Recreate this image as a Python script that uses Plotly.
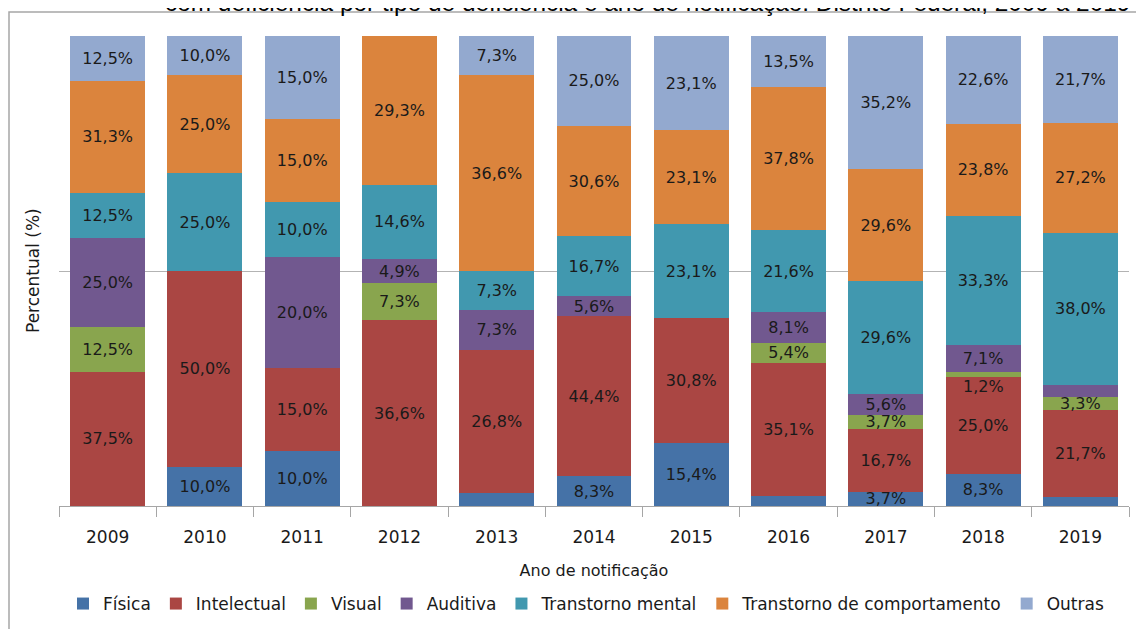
import plotly.graph_objects as go

anos = ["2009", "2010", "2011", "2012", "2013", "2014", "2015", "2016", "2017", "2018", "2019"]

fisica = [0, 10.0, 10.0, 0, 2.4, 8.3, 15.4, 2.7, 3.7, 8.3, 2.2]
intelectual = [37.5, 50.0, 15.0, 36.6, 26.8, 44.4, 30.8, 35.1, 16.7, 25.0, 21.7]
visual = [12.5, 0, 0, 7.3, 0, 0, 0, 5.4, 3.7, 1.2, 3.3]
auditiva = [25.0, 0, 20.0, 4.9, 7.3, 5.6, 0, 8.1, 5.6, 7.1, 2.8]
transtorno_mental = [12.5, 25.0, 10.0, 14.6, 7.3, 16.7, 23.1, 21.6, 29.6, 33.3, 38.0]
transtorno_comport = [31.3, 25.0, 15.0, 29.3, 36.6, 30.6, 23.1, 37.8, 29.6, 23.8, 27.2]
outras = [12.5, 10.0, 15.0, 0, 7.3, 25.0, 23.1, 13.5, 35.2, 22.6, 21.7]

# labels not shown in the original (tiny segments)
sem_rotulo = {("Física", "2013"), ("Física", "2016"), ("Física", "2019"), ("Auditiva", "2019")}
# labels drawn just below their (very thin) segment in the original
rotulo_abaixo = {("Visual", "2018")}

series = [
    ("Física", fisica, "#4572A7"),
    ("Intelectual", intelectual, "#AA4643"),
    ("Visual", visual, "#89A54E"),
    ("Auditiva", auditiva, "#71588F"),
    ("Transtorno mental", transtorno_mental, "#4198AF"),
    ("Transtorno de comportamento", transtorno_comport, "#DB843D"),
    ("Outras", outras, "#93A9CF"),
]

FONT = "DejaVu Sans"
TXT = "#1a1a1a"
LBL = 16

def fmt(v):
    return f"{v:.1f}%".replace(".", ",")

fig = go.Figure()
extra_ann = []
totais = [sum(s[1][i] for s in series) for i in range(len(anos))]
base = [0.0] * len(anos)
for nome, vals, cor in series:
    textos = []
    for i, (a, v) in enumerate(zip(anos, vals)):
        if v == 0 or (nome, a) in sem_rotulo:
            textos.append("")
        elif (nome, a) in rotulo_abaixo:
            textos.append("")
            yc = (base[i] + v / 2) / totais[i] * 100
            extra_ann.append(dict(text=fmt(v), x=i, y=yc, xref="x", yref="y", yshift=-12,
                                  showarrow=False, font=dict(family=FONT, size=LBL, color=TXT)))
        else:
            textos.append(fmt(v))
        base[i] += v
    fig.add_trace(go.Bar(
        name=nome, x=anos, y=vals, marker=dict(color=cor, line=dict(width=0)),
        text=textos, textposition="inside", insidetextanchor="middle",
        textfont=dict(family=FONT, size=LBL, color=TXT),
        constraintext="none", hoverinfo="skip",
    ))

OFF = 8  # page body margin
W, H = 1144 - OFF, 629 - OFF
L = 59 - OFF
T = 36 - OFF
R = W - (1129 - OFF)
B = H - (506 - OFF)
pw, ph = W - L - R, H - T - B

def px_x(sx):
    return (sx - OFF - L) / pw

def px_y(sy):
    return (H - B - (sy - OFF)) / ph

fig.update_layout(
    barmode="stack", barnorm="percent", bargap=0.23,
    width=W, height=H,
    margin=dict(l=L, r=R, t=T, b=B, autoexpand=False),
    paper_bgcolor="white", plot_bgcolor="white",
    uniformtext=dict(mode="show", minsize=LBL),
    font=dict(family=FONT, size=16, color=TXT),
    showlegend=True,
    legend=dict(orientation="h", x=px_x(586), y=px_y(604), xanchor="center", yanchor="middle",
                font=dict(family=FONT, size=17, color=TXT), traceorder="normal",
                itemwidth=30, tracegroupgap=0),
    xaxis=dict(
        type="category", categoryorder="array", categoryarray=anos,
        showline=True, linecolor="#a6a6a6", linewidth=1,
        ticks="outside", tickson="boundaries", ticklen=10, tickcolor="#a6a6a6",
        tickfont=dict(family=FONT, size=17, color=TXT), tickangle=0,
        ticklabelstandoff=16,
        title=dict(text="Ano de notificação", font=dict(family=FONT, size=16, color=TXT), standoff=18),
    ),
    yaxis=dict(
        range=[0, 100], dtick=50, showticklabels=False, showgrid=True,
        gridcolor="#b3b3b3", gridwidth=1, zeroline=False, showline=False,
    ),
    shapes=[
        dict(type="rect", xref="paper", yref="paper",
             x0=px_x(9), x1=px_x(1170), y0=px_y(680), y1=px_y(12),
             line=dict(color="#a6a6a6", width=1.5), fillcolor="rgba(0,0,0,0)", layer="below"),
    ],
    annotations=[
        dict(text="Percentual (%)", textangle=-90, xref="paper", yref="paper",
             x=px_x(33), y=px_y(271), xanchor="center", yanchor="middle", showarrow=False,
             font=dict(family=FONT, size=17, color=TXT)),
        dict(text="com deficiência por tipo de deficiência e ano de notificação. Distrito Federal, 2009 a 2019",
             xref="paper", yref="paper", x=px_x(163), y=px_y(2), xanchor="left", yanchor="middle",
             showarrow=False, font=dict(family="Liberation Sans", size=24.4, color="#000000")),
    ] + extra_ann,
)

fig.write_html("out.html")
